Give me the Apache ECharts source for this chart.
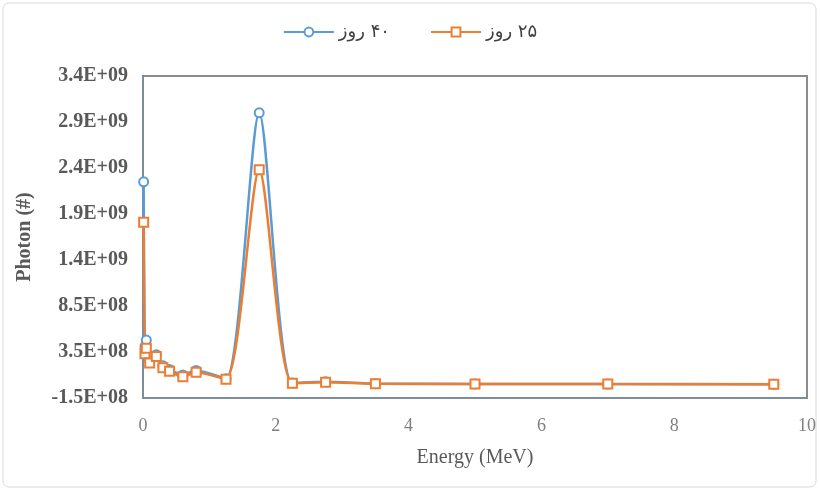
<!DOCTYPE html>
<html>
<head>
<meta charset="utf-8">
<script src="https://cdn.jsdelivr.net/npm/echarts@6/dist/echarts.min.js"></script>
<style>
  html, body { margin: 0; padding: 0; background: #fff; }
  #chartsDiv { width: 820px; height: 491px; }
</style>
</head>
<body>
<div id="chartsDiv"></div>
<script>
// energy groups (MeV)
var energy = [0.01, 0.03, 0.05, 0.1, 0.2, 0.3, 0.4, 0.6, 0.8, 1.25, 1.75, 2.25, 2.75, 3.5, 5, 7, 9.5]
// photon counts, 40 days
var photon40 = [2.2e9, 4.1e8, 4.8e8, 2.6e8, 3.2e8, 2.0e8, 1.6e8, 1.0e8, 1.5e8, 6e7, 2.95e9, 1.2e7, 2.6e7, 6e6, 3e6, 1.5e6, 5e5]
// photon counts, 25 days
var photon25 = [1.76e9, 3.3e8, 3.9e8, 2.3e8, 3.0e8, 1.8e8, 1.4e8, 8e7, 1.3e8, 5.5e7, 2.33e9, 9e6, 2.2e7, 5e6, 2.5e6, 1e6, 4e5]

var seriesNames = ['\u200F۴۰ روز', '\u200F۲۵ روز']
var yTickLabels = ['-1.5E+08', '3.5E+08', '8.5E+08', '1.4E+09', '1.9E+09', '2.4E+09', '2.9E+09', '3.4E+09']
var yMin = -1.5e8
var yStep = 5e8

var pairs = function(xs, ys) {
  return xs.map(function(x, i) { return [x, ys[i]] })
}

var serif = '"Liberation Serif", "DejaVu Serif", serif'

var realChart = echarts.init(document.getElementById('chartsDiv'), null, { renderer: 'canvas' })

var option = {
  animation: false,
  backgroundColor: '#fff',
  color: ['#5B9BD5', '#ED7D31'],
  graphic: [
    {
      type: 'rect',
      shape: { x: 3, y: 3, width: 813, height: 484, r: 6 },
      style: { fill: 'none', stroke: '#d9d9d9', lineWidth: 1 },
      silent: true
    }
  ],
  legend: {
    top: 18,
    left: 'center',
    itemWidth: 50,
    itemHeight: 11,
    itemGap: 40,
    textStyle: {
      color: '#404040',
      fontSize: 18,
      fontFamily: '"DejaVu Sans", sans-serif'
    },
    data: seriesNames
  },
  grid: {
    left: 143,
    right: 13,
    top: 76,
    bottom: 93,
    show: true,
    borderColor: '#8c8c8c',
    borderWidth: 2,
    containLabel: false
  },
  xAxis: {
    type: 'value',
    min: 0,
    max: 10,
    interval: 2,
    name: 'Energy (MeV)',
    nameLocation: 'middle',
    nameGap: 50,
    nameTextStyle: { color: '#595959', fontSize: 20, fontFamily: serif },
    axisLine: { show: true, onZero: false, lineStyle: { color: '#7f8c99', width: 2 } },
    axisTick: { show: false },
    splitLine: { show: false },
    axisLabel: { color: '#7f7f7f', fontSize: 18, fontFamily: serif, margin: 19 }
  },
  yAxis: {
    type: 'value',
    min: yMin,
    max: 3.35e9,
    interval: yStep,
    name: 'Photon (#)',
    nameLocation: 'middle',
    nameGap: 108,
    nameTextStyle: { color: '#595959', fontSize: 20, fontWeight: 'bold', fontFamily: serif },
    axisLine: { show: true, lineStyle: { color: '#7f8c99', width: 2 } },
    axisTick: { show: false },
    splitLine: { show: false },
    axisLabel: {
      color: '#595959',
      fontSize: 20,
      fontWeight: 'bold',
      fontFamily: serif,
      margin: 15,
      formatter: function(value) {
        var idx = Math.round((value - yMin) / yStep)
        return yTickLabels[idx] || ''
      }
    }
  },
  series: [
    {
      name: seriesNames[0],
      type: 'line',
      smooth: 0.25,
      symbol: 'emptyCircle',
      symbolSize: 9,
      showSymbol: true,
      lineStyle: { width: 2.5 },
      itemStyle: { borderWidth: 1.5 },
      data: pairs(energy, photon40)
    },
    {
      name: seriesNames[1],
      type: 'line',
      smooth: 0.25,
      symbol: 'emptyRect',
      symbolSize: 9,
      showSymbol: true,
      lineStyle: { width: 2.5 },
      itemStyle: { borderWidth: 1.5 },
      data: pairs(energy, photon25)
    }
  ]
}

realChart.setOption(option)
</script>
</body>
</html>
